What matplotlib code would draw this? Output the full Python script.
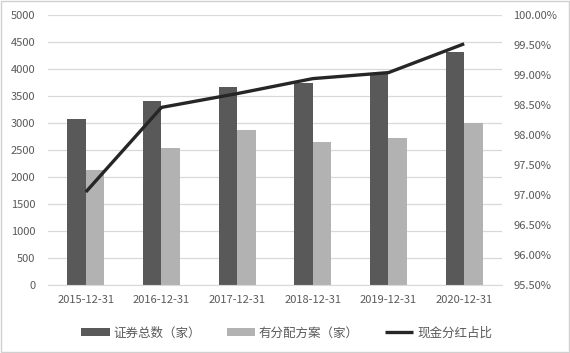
import numpy as np
import matplotlib
matplotlib.use("Agg")
import matplotlib.pyplot as plt
from matplotlib.patches import Rectangle
from matplotlib.ticker import FuncFormatter

plt.rcParams["font.family"] = ["Noto Sans CJK SC", "DejaVu Sans"]

dates = ["2015-12-31", "2016-12-31", "2017-12-31",
         "2018-12-31", "2019-12-31", "2020-12-31"]
total = [3075, 3413, 3673, 3735, 3932, 4321]
with_plan = [2130, 2543, 2865, 2654, 2722, 2994]
cash_ratio = [97.05, 98.46, 98.69, 98.94, 99.04, 99.52]

gris_texte = "#595959"
gris_fonce = "#595959"
gris_clair = "#b2b2b2"

fig = plt.figure(figsize=(5.70, 3.53), dpi=100)
ax = fig.add_axes([0.0842, 0.1926, 0.7965, 0.7649])

x = np.arange(len(dates))
w = 0.245
ax.bar(x - w / 2, total, w, color=gris_fonce, label="证券总数（家）", zorder=2)
ax.bar(x + w / 2, with_plan, w, color=gris_clair, label="有分配方案（家）", zorder=2)

ax.set_xlim(-0.5, len(dates) - 0.5)
ax.set_ylim(0, 5000)
ax.set_yticks(np.arange(0, 5001, 500))
ax.set_xticks(x)
ax.set_xticklabels(dates)
ax.grid(axis="y", color="#d9d9d9", linewidth=0.9, zorder=0)
for s in ["top", "right", "left"]:
    ax.spines[s].set_visible(False)
ax.spines["bottom"].set_color("#d9d9d9")
ax.tick_params(axis="both", length=0, labelsize=8, colors=gris_texte)
ax.tick_params(axis="y", pad=9)
ax.tick_params(axis="x", pad=7)

ax2 = ax.twinx()
ligne, = ax2.plot(x, cash_ratio, color="#262626", linewidth=2.4,
                  label="现金分红占比", solid_capstyle="butt")
ax2.set_ylim(95.5, 100)
ax2.set_yticks(np.arange(95.5, 100.01, 0.5))
ax2.yaxis.set_major_formatter(FuncFormatter(lambda v, p: f"{v:.2f}%"))
for s in ax2.spines.values():
    s.set_visible(False)
ax2.tick_params(axis="y", length=0, labelsize=8, colors=gris_texte, pad=8)

h1, l1 = ax.get_legend_handles_labels()
leg = fig.legend(h1 + [ligne], l1 + [ligne.get_label()], loc="center",
                 bbox_to_anchor=(0.503, 0.057), ncol=3, frameon=False,
                 fontsize=9, handlelength=2.25, handletextpad=0.3,
                 columnspacing=2.1)
for t in leg.get_texts():
    t.set_color(gris_texte)

fig.patches.append(Rectangle((0.001, 0.002), 0.997, 0.995,
                             transform=fig.transFigure, fill=False,
                             edgecolor="#d0d0d0", linewidth=1))

fig.savefig("out.png", dpi=100)
